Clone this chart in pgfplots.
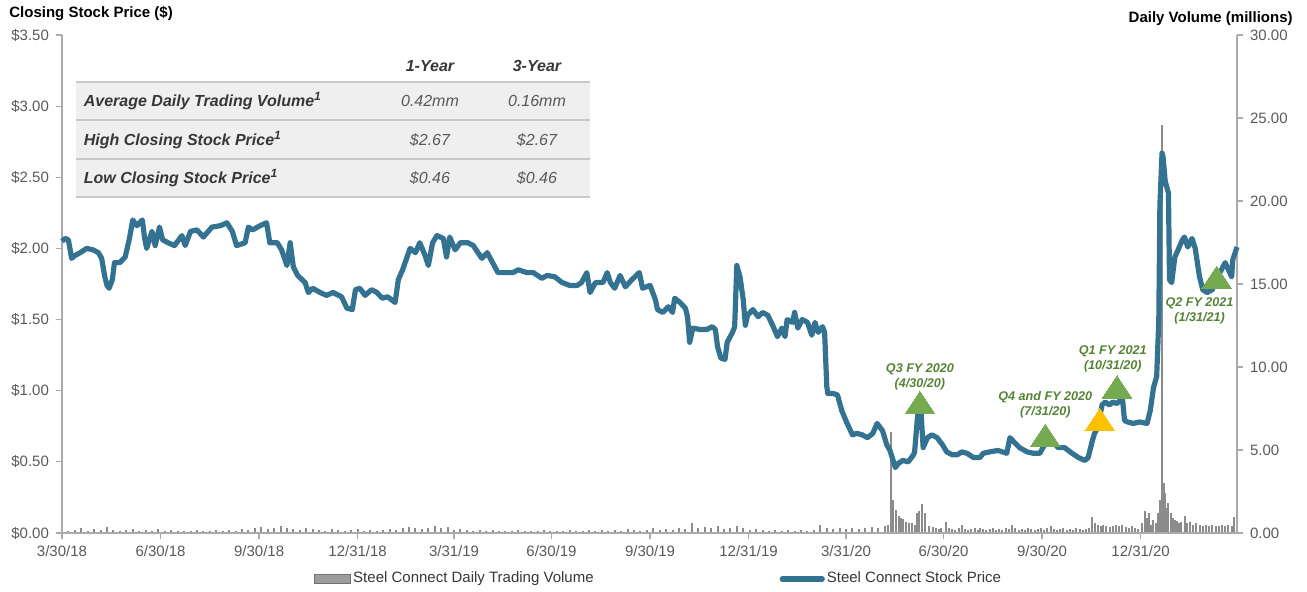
\documentclass[border=0pt]{standalone}
\usepackage{pgfplots}
\pgfplotsset{compat=1.18}
\usepackage{fontspec}
\setmainfont{Liberation Sans}
\definecolor{pricecol}{RGB}{52,114,146}
\definecolor{volcol}{RGB}{140,140,140}
\definecolor{axgray}{RGB}{170,170,170}
\definecolor{tickgray}{RGB}{89,89,89}
\definecolor{anngreen}{RGB}{84,130,53}
\definecolor{trigreen}{RGB}{118,170,80}
\definecolor{triyellow}{RGB}{255,192,0}
\definecolor{tablefill}{RGB}{239,239,239}
\definecolor{tableline}{RGB}{200,200,200}
\definecolor{darktext}{RGB}{55,55,55}

\pgfplotstableread{
x y
0 2.05
3 2.07
6 2.06
9 1.93
12 1.95
17 1.97
23 2.00
29 1.99
34 1.97
37 1.93
40 1.80
42 1.74
44 1.72
47 1.78
49 1.90
54 1.90
59 1.94
63 2.07
66 2.20
70 2.16
75 2.20
77 2.08
79 2.00
84 2.12
87 2.02
91 2.15
94 2.06
99 2.04
105 2.02
112 2.09
115 2.02
120 2.12
126 2.13
132 2.08
140 2.15
148 2.16
154 2.18
159 2.12
163 2.02
171 2.04
174 2.15
178 2.13
185 2.16
191 2.18
194 2.04
201 2.04
205 1.99
210 1.88
213 2.04
216 1.87
220 1.81
227 1.76
230 1.69
234 1.72
241 1.69
247 1.67
253 1.69
261 1.66
266 1.58
271 1.57
274 1.71
278 1.72
283 1.67
289 1.71
294 1.69
299 1.65
304 1.66
311 1.62
314 1.78
318 1.85
325 2.00
330 1.97
334 2.04
339 1.95
342 1.88
346 2.04
350 2.09
356 2.07
359 1.94
362 2.08
367 1.99
372 2.04
379 2.04
384 2.02
392 1.93
397 1.97
402 1.90
407 1.83
412 1.83
421 1.83
426 1.85
434 1.83
440 1.83
448 1.79
453 1.81
460 1.80
467 1.76
474 1.74
481 1.74
485 1.76
490 1.83
493 1.69
498 1.76
505 1.76
509 1.83
512 1.76
516 1.72
521 1.81
526 1.73
532 1.78
539 1.83
542 1.72
549 1.74
554 1.64
556 1.57
561 1.55
566 1.59
570 1.55
572 1.65
577 1.62
582 1.58
584 1.52
586 1.34
589 1.44
596 1.43
602 1.43
607 1.45
610 1.43
612 1.31
615 1.23
619 1.22
621 1.34
626 1.41
628 1.45
630 1.88
633 1.80
636 1.64
638 1.46
640 1.53
645 1.57
650 1.52
654 1.55
659 1.53
664 1.45
668 1.38
672 1.44
675 1.38
677 1.50
682 1.48
684 1.55
687 1.44
691 1.50
696 1.48
700 1.39
703 1.48
706 1.41
710 1.45
712 1.41
714 1.03
715 0.98
720 0.98
724 0.97
728 0.86
733 0.77
738 0.69
742 0.70
747 0.69
752 0.67
757 0.70
761 0.77
766 0.72
770 0.62
773 0.58
778 0.46
781 0.49
785 0.51
790 0.50
795 0.55
796 0.57
799 0.84
802 0.85
804 0.60
808 0.67
812 0.69
817 0.67
822 0.62
826 0.57
831 0.55
836 0.55
840 0.57
845 0.56
851 0.53
857 0.53
860 0.56
866 0.57
874 0.58
882 0.56
885 0.67
890 0.63
894 0.60
901 0.57
907 0.56
913 0.56
918 0.63
924 0.65
930 0.60
936 0.60
943 0.56
949 0.53
955 0.51
958 0.53
962 0.65
964 0.70
967 0.74
971 0.90
974 0.92
978 0.90
981 0.92
985 0.91
990 0.95
992 0.79
995 0.78
1000 0.77
1006 0.78
1013 0.77
1016 0.86
1019 1.02
1022 1.10
1024 1.50
1025 2.30
1027 2.67
1028 2.64
1030 2.47
1033 2.39
1034 1.78
1036 1.76
1039 1.94
1042 1.99
1046 2.06
1048 2.08
1051 2.01
1055 2.07
1058 2.00
1062 1.80
1065 1.71
1069 1.69
1074 1.71
1076 1.76
1081 1.83
1086 1.90
1089 1.85
1092 1.80
1093 1.92
1097 2.01
}\pricetable

\pgfplotstableread{
x y
0 0.25
6 0.15
12 0.2
18 0.3
24 0.15
30 0.25
36 0.2
42 0.35
48 0.2
54 0.15
60 0.2
66 0.25
72 0.15
78 0.2
84 0.15
90 0.25
96 0.15
102 0.2
108 0.15
114 0.1
120 0.15
126 0.2
132 0.15
138 0.1
144 0.2
150 0.15
156 0.2
162 0.15
168 0.25
174 0.2
180 0.3
186 0.35
192 0.25
198 0.3
204 0.45
210 0.3
216 0.25
222 0.2
228 0.3
234 0.25
240 0.2
246 0.15
252 0.25
258 0.2
264 0.15
270 0.2
276 0.25
282 0.15
288 0.2
294 0.15
300 0.2
306 0.25
312 0.2
318 0.3
324 0.35
330 0.3
336 0.25
342 0.3
348 0.4
354 0.3
360 0.35
366 0.2
372 0.25
378 0.2
384 0.15
390 0.2
396 0.15
402 0.2
408 0.15
414 0.1
420 0.15
426 0.2
432 0.15
438 0.1
444 0.15
450 0.2
456 0.15
462 0.1
468 0.15
474 0.2
480 0.15
486 0.1
492 0.2
498 0.15
504 0.2
510 0.15
516 0.2
522 0.15
528 0.25
534 0.2
540 0.15
546 0.2
552 0.3
558 0.2
564 0.25
570 0.2
576 0.3
582 0.25
588 0.6
594 0.3
600 0.35
606 0.3
612 0.4
618 0.25
624 0.3
630 0.45
636 0.3
642 0.2
648 0.25
654 0.2
660 0.15
666 0.2
672 0.15
678 0.2
684 0.15
690 0.2
696 0.15
702 0.2
708 0.5
714 0.3
720 0.25
726 0.3
732 0.25
738 0.3
744 0.25
750 0.3
756 0.35
762 0.3
768 0.4
771 0.5
774 6.1
776 2.0
779 1.4
781 1.0
783 0.9
785 0.85
788 0.65
791 0.6
794 0.6
796 0.5
798 1.2
800 1.3
803 1.75
806 1.2
809 0.4
813 0.35
816 0.3
819 0.25
821 0.3
825 0.65
828 0.3
831 0.25
834 0.2
837 0.3
840 0.5
843 0.25
846 0.2
849 0.25
852 0.3
855 0.2
857 0.3
860 0.25
863 0.2
866 0.25
869 0.3
872 0.2
875 0.25
878 0.2
881 0.3
884 0.25
887 0.5
890 0.3
893 0.2
896 0.25
899 0.2
902 0.3
905 0.25
908 0.2
911 0.25
914 0.3
917 0.2
920 0.3
923 0.4
926 0.25
929 0.2
932 0.25
935 0.3
938 0.2
941 0.25
944 0.2
947 0.3
950 0.25
953 0.2
956 0.25
959 0.3
962 0.95
964 0.6
967 0.5
970 0.45
972 0.5
975 0.4
978 0.35
981 0.45
984 0.5
987 0.4
990 0.5
993 0.35
996 0.3
999 0.45
1002 0.3
1005 0.25
1008 0.6
1011 1.3
1013 0.9
1015 1.2
1017 0.5
1019 0.8
1021 0.6
1023 1.2
1025 2.0
1027 24.6
1029 3.0
1030 2.4
1032 1.5
1033 1.8
1035 1.2
1037 0.9
1039 0.8
1041 0.7
1043 0.6
1045 0.65
1048 1.0
1050 0.6
1053 0.65
1056 0.5
1059 0.6
1062 0.5
1065 0.45
1068 0.5
1071 0.4
1074 0.5
1077 0.45
1080 0.4
1083 0.5
1086 0.45
1089 0.5
1092 0.4
1094 0.95
}\voltable

\begin{document}
\begin{tikzpicture}
\pgfplotsset{
  common/.style={
    at={(0,0)}, anchor=south west, scale only axis,
    width=587.5pt, height=249pt, xmin=0, xmax=1097,
    axis line style={axgray, line width=0.8pt},
    tick style={axgray, line width=0.6pt},
    tick align=outside, major tick length=3pt,
    ticklabel style={font=\fontsize{7.5}{9}\selectfont, text=tickgray},
    clip=false
  }
}
\begin{axis}[common, ymin=0, ymax=30,
  axis y line*=right, axis x line=none,
  ytick={0,5,10,15,20,25,30},
  yticklabels={0.00,5.00,10.00,15.00,20.00,25.00,30.00}]
\addplot[ycomb, volcol, line width=1pt] table[x=x,y=y] {\voltable};
\end{axis}

\begin{axis}[common, ymin=0, ymax=3.5,
  axis y line*=left, axis x line*=bottom,
  ytick={0,0.5,1,1.5,2,2.5,3,3.5},
  yticklabels={\$0.00,\$0.50,\$1.00,\$1.50,\$2.00,\$2.50,\$3.00,\$3.50},
  xtick={0,92,184,276,366,457,549,641,732,823,915,1007},
  xticklabels={3/30/18,6/30/18,9/30/18,12/31/18,3/31/19,6/30/19,9/30/19,12/31/19,3/31/20,6/30/20,9/30/20,12/31/20},
  legend columns=2,
  legend style={draw=none, fill=none, at={(0.2094,-0.0924)}, anchor=west,
    font=\fontsize{7.5}{9}\selectfont, text=darktext,
    nodes={inner sep=1pt},
    /tikz/every even column/.append style={column sep=92pt}},
  legend cell align=left]
\addlegendimage{legend image code/.code={\draw[fill=volcol!85, draw=volcol!80!black, line width=0.4pt] (0pt,-2.4pt) rectangle (18pt,2.4pt);}}
\addlegendentry{Steel Connect Daily Trading Volume}
\addplot[pricecol, line width=2.6pt, line join=round,
  legend image code/.code={\draw[pricecol, line width=2.6pt, line cap=round] (0pt,0pt) -- (20pt,0pt);}]
  table[x=x,y=y] {\pricetable};
\addlegendentry{Steel Connect Stock Price}
\addplot[trigreen, only marks, mark=triangle*, mark size=7.5pt, forget plot,
  mark options={fill=trigreen, draw=trigreen, line width=0pt, xscale=1.15}]
  coordinates {(801,0.89) (918,0.66) (985,1.00) (1078,1.77)};
\addplot[triyellow, only marks, mark=triangle*, mark size=7.5pt, forget plot,
  mark options={fill=triyellow, draw=triyellow, line width=0pt, xscale=1.15}]
  coordinates {(969,0.77)};
\begin{scope}[every node/.style={text=anngreen, font=\fontsize{6.3}{7.5}\selectfont\bfseries\itshape, align=center, inner sep=0pt}]
\node at (axis cs:801,1.10) {Q3 FY 2020\\(4/30/20)};
\node at (axis cs:918,0.90) {Q4 and FY 2020\\(7/31/20)};
\node at (axis cs:981,1.22) {Q1 FY 2021\\(10/31/20)};
\node at (axis cs:1062,1.56) {Q2 FY 2021\\(1/31/21)};
\end{scope}
\end{axis}

% titles
\node[anchor=west, inner sep=0pt, font=\fontsize{7.5}{9}\selectfont\bfseries] at (-26.5pt,259.5pt) {Closing Stock Price (\$)};
\node[anchor=east, inner sep=0pt, font=\fontsize{7.5}{9}\selectfont\bfseries] at (615.5pt,257pt) {Daily Volume (millions)};

% summary table
\fill[tablefill] (7pt,168pt) rectangle (264pt,225.5pt);
\foreach \yy in {225.5,206.5,187,168} {
  \draw[tableline, line width=0.8pt] (7pt,\yy pt) -- (264pt,\yy pt);
}
\begin{scope}[every node/.style={inner sep=0pt, font=\fontsize{8}{9.6}\selectfont\bfseries\itshape, text=darktext}]
\node at (184pt,233.5pt) {1-Year};
\node at (237.5pt,233.5pt) {3-Year};
\node[anchor=west] at (10.75pt,216pt) {Average Daily Trading Volume\textsuperscript{1}};
\node[anchor=west] at (10.75pt,196.5pt) {High Closing Stock Price\textsuperscript{1}};
\node[anchor=west] at (10.75pt,177.5pt) {Low Closing Stock Price\textsuperscript{1}};
\end{scope}
\begin{scope}[every node/.style={inner sep=0pt, font=\fontsize{8}{9.6}\selectfont\itshape, text=tickgray}]
\node at (184pt,216pt) {0.42mm};
\node at (237.5pt,216pt) {0.16mm};
\node at (184pt,196.5pt) {\$2.67};
\node at (237.5pt,196.5pt) {\$2.67};
\node at (184pt,177.5pt) {\$0.46};
\node at (237.5pt,177.5pt) {\$0.46};
\end{scope}

\pgfresetboundingbox
\path (-31pt,-29.5pt) rectangle (622.5pt,266.5pt);
\end{tikzpicture}
\end{document}
